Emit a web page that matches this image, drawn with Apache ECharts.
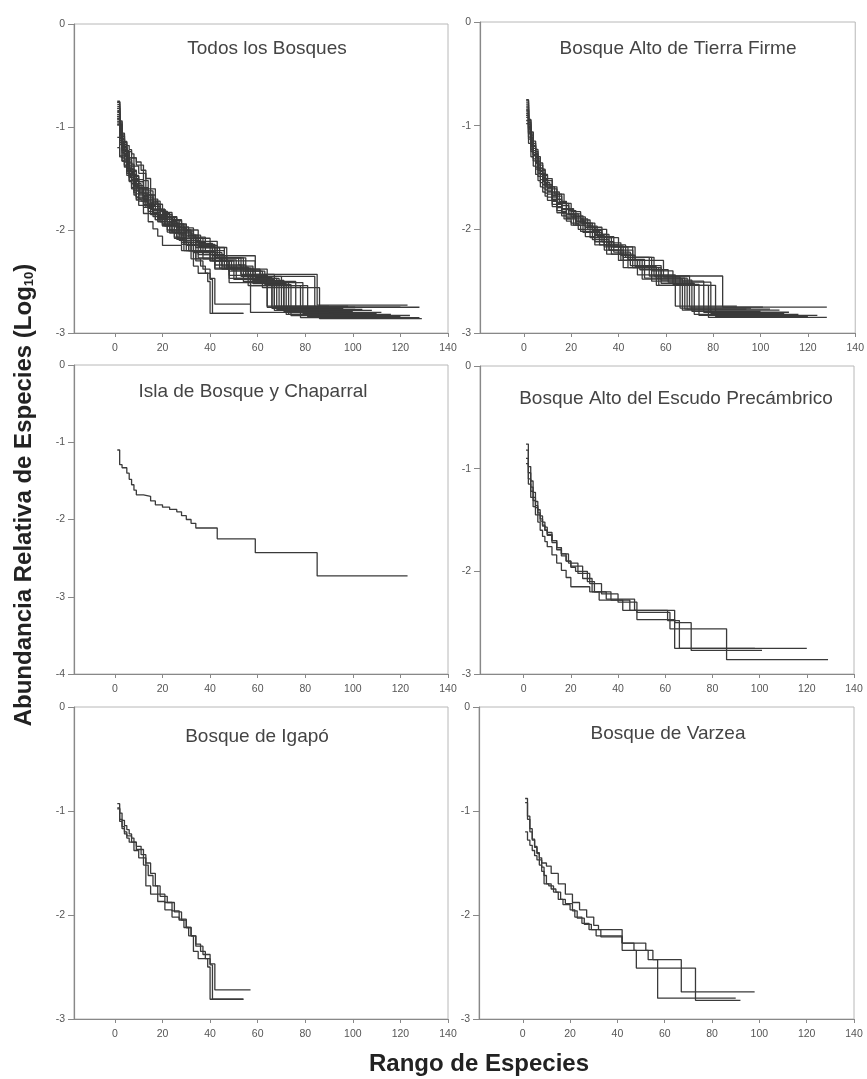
<!DOCTYPE html>
<html>
<head>
<meta charset="utf-8">
<script src="https://cdn.jsdelivr.net/npm/echarts@6/dist/echarts.min.js"></script>
<style>
html, body { margin: 0; background: #fff; }
#chart { width: 867px; height: 1079px; }
</style>
</head>
<body>
<div id="chart"></div>
<script>
// rank ticks / abundance ticks
var rankTicks = [0, 20, 40, 60, 80, 100, 120, 140];
var panelTitles = ['Todos los Bosques', 'Bosque Alto de Tierra Firme', 'Isla de Bosque y Chaparral',
    'Bosque Alto del Escudo Precámbrico', 'Bosque de Igapó', 'Bosque de Varzea'];
var yBottoms = [-3, -3, -4, -3, -3, -3];

// each curve: [rank where a level starts, log10 relative abundance]
var tierra1 = [[1,-0.75],[2,-0.95],[3,-1.07],[4,-1.17],[5,-1.25],[6,-1.32],[7,-1.38],[8,-1.43],[9,-1.48],[10,-1.53],[12,-1.61],[14,-1.68],[16,-1.74],[18,-1.8],[21,-1.85],[24,-1.9],[27,-1.97],[31,-2.05],[36,-2.15],[43,-2.27],[55,-2.45],[84,-2.75],[128,-2.75]];
var tierra2 = [[1,-0.82],[2,-1.03],[3,-1.16],[4,-1.26],[5,-1.34],[6,-1.41],[7,-1.47],[8,-1.53],[9,-1.58],[10,-1.63],[12,-1.71],[14,-1.78],[16,-1.84],[18,-1.9],[20,-1.94],[23,-2.0],[26,-2.07],[30,-2.15],[35,-2.24],[42,-2.37],[56,-2.54],[78,-2.85],[128,-2.85]];
var tierra3 = [[1,-0.85],[2,-1.02],[3,-1.14],[4,-1.24],[5,-1.31],[6,-1.38],[7,-1.44],[8,-1.5],[9,-1.55],[10,-1.59],[12,-1.67],[14,-1.74],[16,-1.8],[18,-1.85],[21,-1.9],[25,-1.96],[29,-2.03],[33,-2.12],[38,-2.22],[45,-2.35],[58,-2.52],[72,-2.82],[116,-2.82]];
var tierra4 = [[1,-0.9],[2,-1.08],[3,-1.2],[4,-1.29],[5,-1.36],[6,-1.42],[7,-1.47],[8,-1.52],[9,-1.56],[10,-1.6],[12,-1.67],[14,-1.74],[16,-1.8],[19,-1.86],[22,-1.92],[26,-1.98],[30,-2.06],[34,-2.17],[41,-2.3],[50,-2.48],[67,-2.78],[108,-2.78]];
var tierra5 = [[1,-0.78],[2,-0.97],[3,-1.09],[4,-1.19],[5,-1.27],[6,-1.34],[7,-1.41],[8,-1.47],[9,-1.52],[10,-1.57],[12,-1.65],[14,-1.71],[16,-1.77],[19,-1.85],[23,-1.93],[27,-2.0],[31,-2.07],[35,-2.16],[42,-2.27],[53,-2.45],[70,-2.75],[101,-2.75]];
var tierra6 = [[1,-0.95],[2,-1.13],[3,-1.25],[4,-1.34],[5,-1.42],[6,-1.49],[7,-1.55],[8,-1.6],[9,-1.65],[10,-1.69],[12,-1.76],[14,-1.82],[16,-1.87],[18,-1.92],[20,-1.96],[24,-2.02],[28,-2.08],[32,-2.15],[37,-2.24],[44,-2.37],[54,-2.5],[76,-2.8],[112,-2.8]];
var tierra7 = [[1,-0.76],[2,-0.94],[3,-1.06],[4,-1.15],[5,-1.23],[6,-1.3],[7,-1.36],[8,-1.42],[9,-1.47],[10,-1.51],[12,-1.59],[14,-1.66],[17,-1.75],[20,-1.83],[24,-1.91],[28,-1.98],[33,-2.07],[38,-2.17],[47,-2.3],[59,-2.46],[66,-2.76],[96,-2.76]];
var tierra8 = [[1,-0.88],[2,-1.06],[3,-1.18],[4,-1.28],[5,-1.36],[6,-1.43],[7,-1.49],[8,-1.54],[9,-1.59],[10,-1.64],[12,-1.72],[14,-1.78],[16,-1.83],[18,-1.88],[22,-1.94],[26,-2.0],[30,-2.08],[34,-2.15],[40,-2.24],[46,-2.37],[57,-2.54],[81,-2.84],[120,-2.84]];
var tierra9 = [[1,-0.84],[2,-1.01],[3,-1.12],[4,-1.22],[5,-1.3],[6,-1.37],[7,-1.43],[8,-1.48],[9,-1.53],[10,-1.57],[12,-1.64],[15,-1.73],[18,-1.81],[21,-1.87],[25,-1.94],[29,-2.01],[33,-2.08],[37,-2.17],[44,-2.29],[51,-2.47],[68,-2.77],[104,-2.77]];
var tierra10 = [[1,-0.92],[2,-1.11],[3,-1.23],[4,-1.32],[5,-1.4],[6,-1.46],[7,-1.52],[8,-1.57],[9,-1.62],[10,-1.66],[12,-1.73],[14,-1.79],[16,-1.84],[18,-1.89],[22,-1.96],[26,-2.03],[30,-2.12],[36,-2.2],[46,-2.3],[48,-2.44],[64,-2.74],[90,-2.74]];
var tierra11 = [[1,-0.8],[2,-0.99],[3,-1.11],[4,-1.2],[5,-1.28],[6,-1.35],[7,-1.41],[8,-1.46],[9,-1.51],[10,-1.55],[11,-1.59],[13,-1.66],[16,-1.75],[19,-1.82],[22,-1.88],[26,-1.94],[30,-2.0],[35,-2.08],[40,-2.17],[46,-2.27],[54,-2.4],[63,-2.53],[74,-2.83],[124,-2.83]];
var tierra12 = [[1,-0.98],[2,-1.17],[3,-1.3],[4,-1.39],[5,-1.47],[6,-1.53],[7,-1.59],[8,-1.64],[9,-1.68],[10,-1.72],[12,-1.78],[14,-1.84],[17,-1.9],[21,-1.96],[25,-2.03],[29,-2.1],[34,-2.2],[40,-2.3],[48,-2.37],[58,-2.49],[71,-2.79],[100,-2.79]];
var tierra13 = [[1,-0.86],[2,-1.04],[3,-1.16],[4,-1.26],[5,-1.34],[6,-1.4],[7,-1.46],[8,-1.51],[9,-1.56],[10,-1.6],[12,-1.68],[14,-1.75],[16,-1.8],[20,-1.88],[24,-1.94],[28,-2.02],[32,-2.1],[36,-2.2],[42,-2.3],[49,-2.39],[61,-2.51],[79,-2.81],[110,-2.81]];
var tierra14 = [[1,-0.9],[2,-1.07],[3,-1.19],[4,-1.28],[5,-1.35],[6,-1.41],[7,-1.47],[8,-1.52],[9,-1.57],[10,-1.61],[12,-1.69],[14,-1.76],[16,-1.81],[18,-1.86],[22,-1.92],[26,-1.98],[30,-2.05],[35,-2.13],[41,-2.25],[47,-2.36],[56,-2.47],[69,-2.77],[94,-2.77]];

var chaparral1 = [[1,-1.1],[2,-1.29],[3,-1.33],[5,-1.4],[6,-1.48],[7,-1.55],[8,-1.62],[9,-1.68],[12,-1.7],[15,-1.76],[17,-1.81],[20,-1.84],[23,-1.87],[26,-1.9],[28,-1.95],[30,-2.0],[32,-2.05],[34,-2.11],[43,-2.25],[59,-2.43],[85,-2.73],[123,-2.73]];

var escudo1 = [[1,-0.76],[2,-0.98],[3,-1.12],[4,-1.23],[5,-1.32],[6,-1.4],[7,-1.46],[8,-1.52],[9,-1.57],[10,-1.62],[12,-1.7],[14,-1.77],[16,-1.83],[19,-1.92],[23,-2.02],[28,-2.12],[33,-2.22],[40,-2.3],[48,-2.4],[62,-2.56],[86,-2.86],[129,-2.86]];
var escudo2 = [[1,-0.82],[2,-1.04],[3,-1.18],[4,-1.28],[5,-1.36],[6,-1.43],[7,-1.49],[8,-1.55],[9,-1.6],[10,-1.65],[12,-1.72],[14,-1.79],[16,-1.85],[18,-1.9],[20,-1.96],[22,-2.0],[27,-2.1],[30,-2.2],[35,-2.27],[47,-2.38],[61,-2.48],[66,-2.75],[120,-2.75]];
var escudo3 = [[1,-0.9],[2,-1.1],[3,-1.22],[4,-1.31],[5,-1.38],[6,-1.45],[7,-1.51],[8,-1.56],[9,-1.6],[10,-1.64],[12,-1.7],[14,-1.77],[16,-1.83],[18,-1.9],[20,-1.95],[25,-2.07],[29,-2.2],[37,-2.28],[45,-2.38],[64,-2.5],[71,-2.77],[101,-2.77]];
var escudo4 = [[1,-0.95],[2,-1.15],[3,-1.28],[4,-1.37],[5,-1.45],[6,-1.52],[7,-1.6],[8,-1.66],[9,-1.71],[10,-1.76],[12,-1.84],[14,-1.92],[16,-1.99],[18,-2.06],[20,-2.15],[28,-2.2],[32,-2.28],[42,-2.38],[48,-2.47],[64,-2.75],[98,-2.75]];

var igapo1 = [[1,-0.93],[2,-1.02],[3,-1.09],[4,-1.14],[5,-1.18],[6,-1.22],[7,-1.26],[8,-1.3],[9,-1.34],[11,-1.42],[13,-1.5],[15,-1.6],[17,-1.72],[19,-1.82],[22,-1.88],[25,-1.97],[28,-2.05],[30,-2.12],[32,-2.2],[34,-2.28],[36,-2.35],[38,-2.42],[40,-2.47],[42,-2.72],[57,-2.72]];
var igapo2 = [[1,-0.97],[2,-1.08],[3,-1.15],[4,-1.2],[5,-1.24],[7,-1.3],[9,-1.37],[12,-1.45],[13,-1.72],[15,-1.8],[18,-1.87],[21,-1.95],[24,-2.02],[27,-2.05],[29,-2.12],[31,-2.2],[33,-2.35],[35,-2.42],[39,-2.5],[40,-2.81],[54,-2.81]];
var igapo3 = [[1,-0.98],[2,-1.1],[3,-1.17],[4,-1.22],[5,-1.26],[6,-1.3],[8,-1.38],[10,-1.45],[12,-1.52],[14,-1.62],[16,-1.72],[18,-1.8],[21,-1.88],[24,-1.96],[27,-2.04],[30,-2.12],[32,-2.2],[34,-2.3],[37,-2.38],[40,-2.48],[41,-2.81],[54,-2.81]];

var varzea1 = [[1,-0.88],[2,-1.05],[3,-1.17],[4,-1.27],[5,-1.34],[6,-1.4],[7,-1.45],[8,-1.5],[10,-1.53],[12,-1.6],[15,-1.7],[18,-1.8],[21,-1.88],[24,-1.95],[27,-2.02],[30,-2.1],[32,-2.14],[42,-2.27],[52,-2.34],[55,-2.43],[67,-2.74],[98,-2.74]];
var varzea2 = [[1,-0.92],[2,-1.08],[3,-1.2],[4,-1.28],[5,-1.35],[6,-1.41],[7,-1.47],[8,-1.54],[9,-1.62],[10,-1.7],[12,-1.75],[14,-1.78],[16,-1.85],[18,-1.89],[21,-1.96],[23,-2.03],[26,-2.09],[29,-2.14],[33,-2.21],[42,-2.34],[48,-2.51],[73,-2.82],[92,-2.82]];
var varzea3 = [[1,-1.2],[2,-1.28],[3,-1.33],[4,-1.38],[5,-1.43],[6,-1.47],[7,-1.52],[8,-1.58],[9,-1.7],[11,-1.72],[13,-1.78],[15,-1.85],[17,-1.9],[20,-1.95],[22,-2.02],[25,-2.08],[28,-2.14],[31,-2.2],[42,-2.27],[47,-2.34],[53,-2.43],[57,-2.8],[90,-2.8]];

var tierraFirme = [tierra1, tierra2, tierra3, tierra4, tierra5, tierra6, tierra7, tierra8, tierra9, tierra10, tierra11, tierra12, tierra13, tierra14];
var chaparral = [chaparral1];
var escudo = [escudo1, escudo2, escudo3, escudo4];
var igapo = [igapo1, igapo2, igapo3];
var varzea = [varzea1, varzea2, varzea3];
var todos = tierraFirme.concat(chaparral, escudo, igapo, varzea);
var panelCurves = [todos, tierraFirme, chaparral, escudo, igapo, varzea];

// layout
var boxes = [
    {left: 74, top: 24, width: 374, height: 309, xMin: -17.2},
    {left: 480, top: 22, width: 376, height: 311, xMin: -18.5},
    {left: 74, top: 365, width: 374, height: 309, xMin: -17.2},
    {left: 480, top: 366, width: 374, height: 308, xMin: -18.5},
    {left: 74, top: 707, width: 374, height: 312, xMin: -17.2},
    {left: 479, top: 707, width: 375, height: 312, xMin: -18.5}
];
var titlePos = [[267, 49], [678, 49], [253, 392], [676, 399], [257, 737], [668, 734]];
var FONT = '"Liberation Sans", Arial, sans-serif';

var dom = document.getElementById('chart');
var myChart = echarts.init(dom);

var grid = [], xAxis = [], yAxis = [], series = [], graphic = [];
boxes.forEach(function (b, i) {
    grid.push({left: b.left, top: b.top, width: b.width, height: b.height,
        show: true, borderColor: '#b8b8b8', borderWidth: 1, backgroundColor: 'transparent'});
    xAxis.push({
        type: 'value', gridIndex: i, min: b.xMin, max: 140,
        axisLine: {show: true, onZero: false, lineStyle: {color: '#888', width: 1.2}},
        axisTick: {show: true, customValues: rankTicks, length: 4, lineStyle: {color: '#888'}},
        axisLabel: {customValues: rankTicks, margin: 10, fontSize: 10.5, color: '#555', fontFamily: FONT},
        splitLine: {show: false}
    });
    yAxis.push({
        type: 'value', gridIndex: i, min: yBottoms[i], max: 0, interval: 1,
        axisLine: {show: true, onZero: false, lineStyle: {color: '#888', width: 1.2}},
        axisTick: {show: true, length: 6, lineStyle: {color: '#888'}},
        axisLabel: {margin: 9, fontSize: 10.5, color: '#555', fontFamily: FONT},
        splitLine: {show: false}
    });
    panelCurves[i].forEach(function (curve) {
        series.push({
            type: 'line', xAxisIndex: i, yAxisIndex: i, step: 'end',
            data: curve, showSymbol: false, silent: true,
            lineStyle: {color: '#3a3a3a', width: 1.3}
        });
    });
    graphic.push({
        type: 'text', x: titlePos[i][0], y: titlePos[i][1],
        style: {text: panelTitles[i], fontSize: 19, fontFamily: FONT, fill: '#444',
            align: 'center', verticalAlign: 'middle'}
    });
});

graphic.push({
    type: 'text', x: 24, y: 495, rotation: Math.PI / 2,
    style: {
        text: '{m|Abundancia Relativa de Especies (Log}{s|10}{m|)}',
        align: 'center', verticalAlign: 'middle', fill: '#222',
        rich: {
            m: {fontSize: 24, fontWeight: 'bold', fontFamily: FONT, fill: '#222'},
            s: {fontSize: 13, fontWeight: 'bold', fontFamily: FONT, fill: '#222', verticalAlign: 'bottom', padding: [9, 0, 0, 0]}
        }
    }
});
graphic.push({
    type: 'text', x: 479, y: 1064,
    style: {text: 'Rango de Especies', fontSize: 24, fontWeight: 'bold', fontFamily: FONT,
        fill: '#222', align: 'center', verticalAlign: 'middle'}
});

var option = {
    backgroundColor: '#fff',
    animation: false,
    grid: grid,
    xAxis: xAxis,
    yAxis: yAxis,
    series: series,
    graphic: graphic
};
myChart.setOption(option);
</script>
</body>
</html>
